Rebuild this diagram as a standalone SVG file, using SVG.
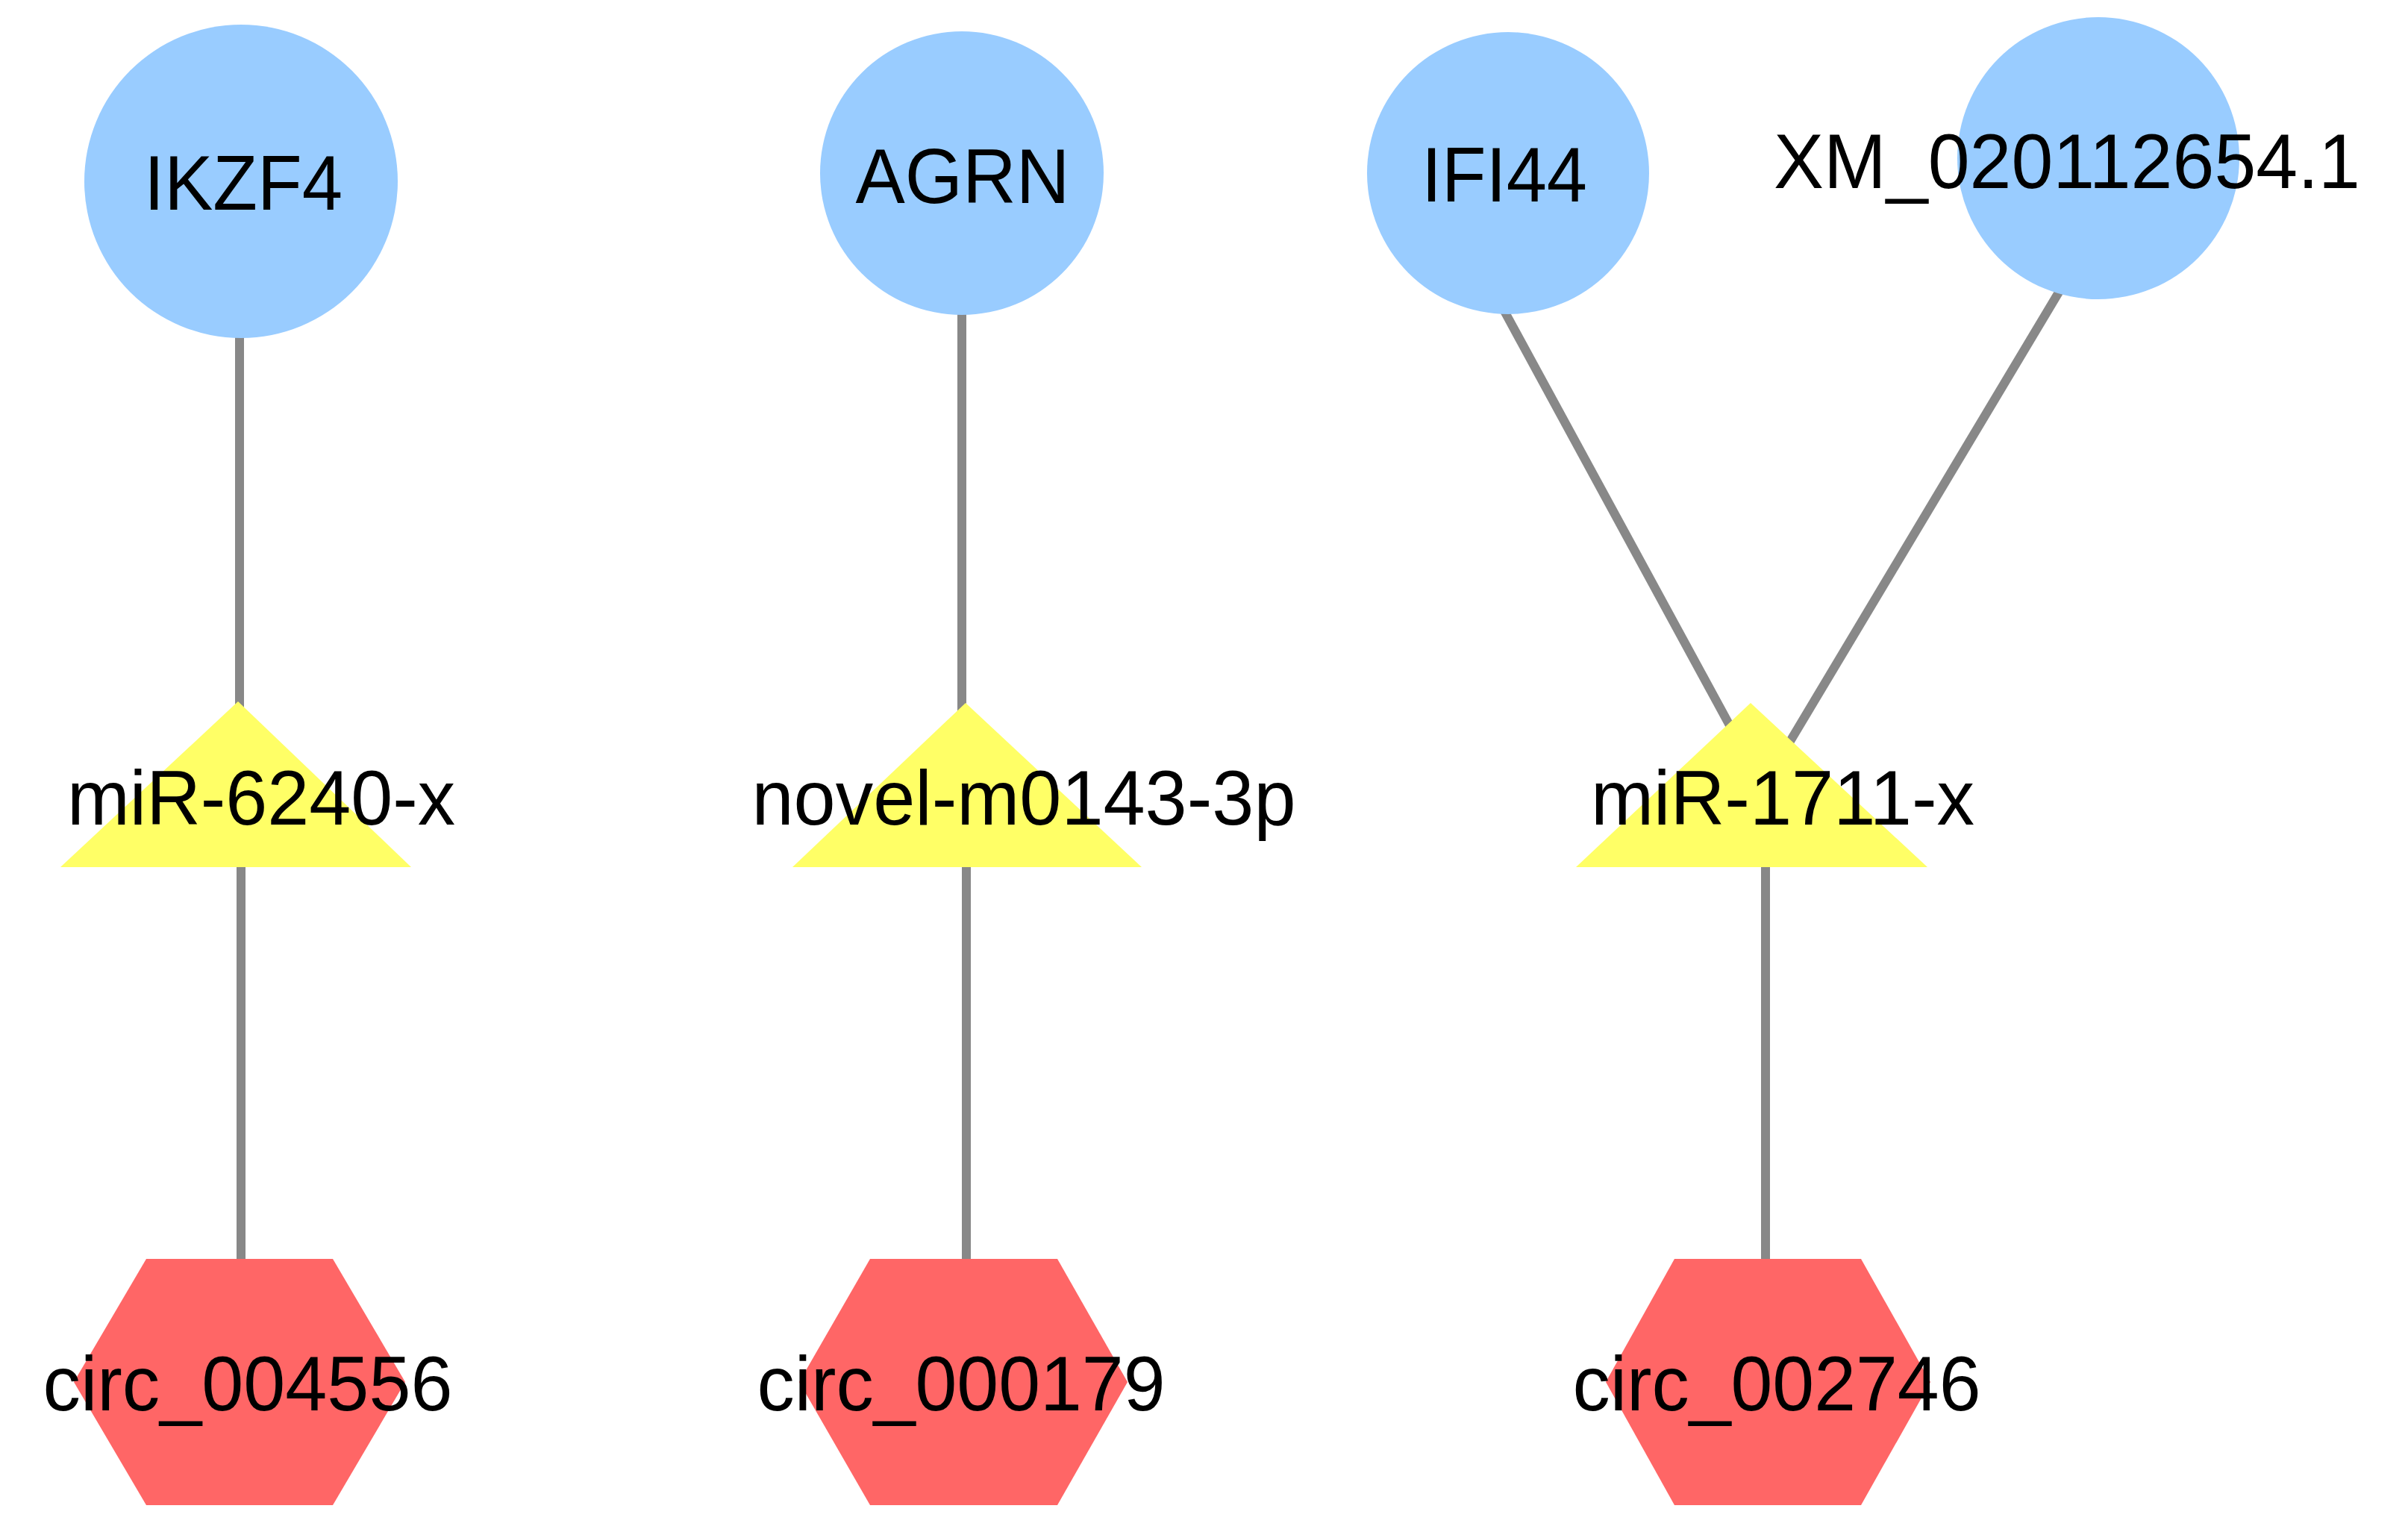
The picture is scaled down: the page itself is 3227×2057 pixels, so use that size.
<svg xmlns="http://www.w3.org/2000/svg" width="3227" height="2057" viewBox="0 0 3227 2057">
<style>
.edge{stroke:#888888;stroke-width:12;fill:none}
.gene{fill:#99CCFF}
.mir{fill:#FFFF66}
.circ{fill:#FF6666}
.lbl{font-family:"Liberation Sans",Arial,sans-serif;font-size:104px;fill:#000000;text-anchor:middle}
</style>
<rect width="3227" height="2057" fill="#FFFFFF"/>
<g id="connectors">
<line class="edge" x1="321" y1="440" x2="321" y2="960"/>
<line class="edge" x1="323" y1="1150" x2="323" y2="1700"/>
<line class="edge" x1="1289" y1="410" x2="1289" y2="960"/>
<line class="edge" x1="1295" y1="1150" x2="1295" y2="1700"/>
<line class="edge" x1="2015" y1="415" x2="2325" y2="985"/>
<line class="edge" x1="2760" y1="390" x2="2395" y2="1000"/>
<line class="edge" x1="2366" y1="1150" x2="2366" y2="1700"/>
</g>
<g id="IKZF4">
<circle class="gene" cx="323" cy="243" r="210"/>
<text class="lbl" x="326" y="281" textLength="266" lengthAdjust="spacingAndGlyphs">IKZF4</text>
</g>
<g id="AGRN">
<circle class="gene" cx="1289" cy="232" r="190"/>
<text class="lbl" x="1290" y="272" textLength="287" lengthAdjust="spacingAndGlyphs">AGRN</text>
</g>
<g id="IFI44">
<circle class="gene" cx="2021" cy="232" r="189"/>
<text class="lbl" x="2016" y="270" textLength="222" lengthAdjust="spacingAndGlyphs">IFI44</text>
</g>
<g id="XM_020112654.1">
<circle class="gene" cx="2812" cy="212" r="189"/>
<text class="lbl" x="2770" y="252" textLength="786" lengthAdjust="spacingAndGlyphs">XM_020112654.1</text>
</g>
<g id="miR-6240-x">
<polygon class="mir" points="319,940 551,1162 81,1162"/>
<text class="lbl" x="350" y="1105" textLength="520" lengthAdjust="spacingAndGlyphs">miR-6240-x</text>
</g>
<g id="novel-m0143-3p">
<polygon class="mir" points="1294,942 1530,1162 1062,1162"/>
<text class="lbl" x="1372" y="1105" textLength="729" lengthAdjust="spacingAndGlyphs">novel-m0143-3p</text>
</g>
<g id="miR-1711-x">
<polygon class="mir" points="2346,942 2583,1162 2112,1162"/>
<text class="lbl" x="2389" y="1105" textLength="514" lengthAdjust="spacingAndGlyphs">miR-1711-x</text>
</g>
<g id="circ_004556">
<polygon class="circ" points="196,1687 446,1687 543,1852 446,2017 196,2017 99,1852"/>
<text class="lbl" x="332" y="1890" textLength="549" lengthAdjust="spacingAndGlyphs">circ_004556</text>
</g>
<g id="circ_000179">
<polygon class="circ" points="1166,1687 1417,1687 1511,1852 1417,2017 1166,2017 1071,1852"/>
<text class="lbl" x="1288" y="1890" textLength="547" lengthAdjust="spacingAndGlyphs">circ_000179</text>
</g>
<g id="circ_002746">
<polygon class="circ" points="2244,1687 2494,1687 2587,1852 2494,2017 2244,2017 2152,1852"/>
<text class="lbl" x="2381" y="1890" textLength="547" lengthAdjust="spacingAndGlyphs">circ_002746</text>
</g>
</svg>
